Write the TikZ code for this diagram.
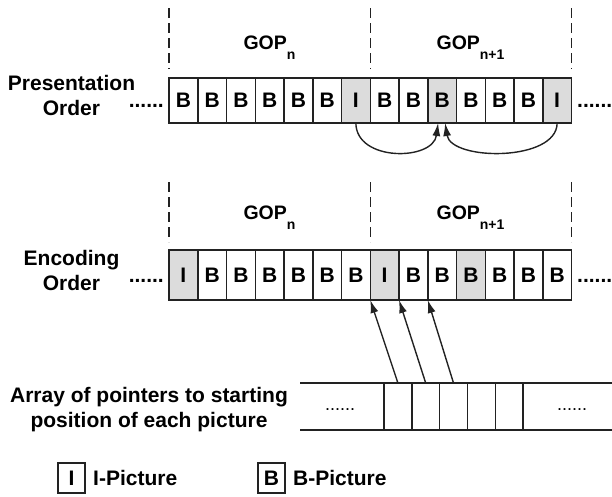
\documentclass[tikz,border=0pt]{standalone}
\usepackage{fontspec}
\setmainfont{Liberation Sans}
\usetikzlibrary{arrows.meta}

\definecolor{framecol}{HTML}{222222}
\definecolor{shadecol}{HTML}{DCDCDC}

\tikzset{
  cell/.style={draw=framecol, line width=1.5pt, minimum width=28.75pt,
    minimum height=#1, inner sep=0pt, outer sep=0pt,
    font=\fontsize{21}{21}\selectfont\bfseries},
  cell/.default=45pt,
  rowlabel/.style={align=center, inner sep=0pt,
    font=\fontsize{21}{25}\selectfont\bfseries},
  gop/.style={inner sep=0pt, font=\fontsize{19.5}{19.5}\selectfont\bfseries},
  dots/.style={inner sep=0pt, font=\fontsize{21}{21}\selectfont\bfseries},
  smalldots/.style={inner sep=0pt, font=\fontsize{18}{18}\selectfont},
  gopline/.style={draw=framecol, line width=1.5pt, dash pattern=on 10pt off 5pt},
  ptr/.style={draw=framecol, line width=1.4pt, -{Latex[length=13pt,width=8pt]}},
  arrbox/.style={draw=framecol, line width=1.4pt, minimum width=27.8pt,
    minimum height=47pt, inner sep=0pt, outer sep=0pt},
  legbox/.style={draw=framecol, line width=1.4pt, minimum width=27pt,
    minimum height=30pt, inner sep=0pt,
    font=\fontsize{21}{21}\selectfont\bfseries},
  legtext/.style={inner sep=0pt, anchor=west,
    font=\fontsize{21}{21}\selectfont\bfseries}
}
\newcommand{\gopsub}[1]{GOP\raisebox{-10pt}{\fontsize{14}{14}\selectfont #1}}

\begin{document}
\begin{tikzpicture}[x=1pt, y=-1pt]
  \useasboundingbox (0,0) rectangle (612,496);

  % ---------- presentation order ----------
  \foreach \x in {169,370.25,571.5}
    \draw[gopline] (\x,8) -- (\x,69);
  \node[gop] (gp1) at (269.5,48) {\gopsub{n}};
  \node[gop] (gp2) at (470.5,48) {\gopsub{n+1}};
  \node[rowlabel] (plabel) at (71.5,95.5) {Presentation\\Order};

  \foreach \lab/\f [count=\i] in {B/white,B/white,B/white,B/white,B/white,B/white,I/shadecol,
                                  B/white,B/white,B/shadecol,B/white,B/white,B/white,I/shadecol}
    \node[cell, fill=\f] (p\i) at ({169+(\i-0.5)*28.75},100.5) {\lab};

  \node[dots, anchor=base east] (pdl) at (164,107) {......};
  \node[dots, anchor=base west] (pdr) at (577,107) {......};

  \draw[ptr] (p7.south) .. controls (356,162) and (433,161) .. ([xshift=-4pt]p10.south);
  \draw[ptr] (p14.south) .. controls (557,162) and (451,161) .. ([xshift=3pt]p10.south);

  % ---------- encoding order ----------
  \foreach \x in {169,370.25,571.5}
    \draw[gopline] (\x,182) -- (\x,242);
  \node[gop] (ge1) at (269.5,218) {\gopsub{n}};
  \node[gop] (ge2) at (470.5,218) {\gopsub{n+1}};
  \node[rowlabel] (elabel) at (71.5,270) {Encoding\\Order};

  \foreach \lab/\f [count=\i] in {I/shadecol,B/white,B/white,B/white,B/white,B/white,B/white,
                                  I/shadecol,B/white,B/white,B/shadecol,B/white,B/white,B/white}
    \node[cell=50pt, fill=\f] (e\i) at ({169+(\i-0.5)*28.75},275) {\lab};

  \node[dots, anchor=base east] (edl) at (164,282) {......};
  \node[dots, anchor=base west] (edr) at (577,282) {......};

  % ---------- array of pointers ----------
  \foreach \i in {1,...,5}
    \node[arrbox] (a\i) at ({384+(\i-0.5)*27.8},406.5) {};
  \coordinate (atl) at (300,383);
  \coordinate (atr) at (612,383);
  \coordinate (abl) at (300,430);
  \coordinate (abr) at (612,430);
  \draw[draw=framecol, line width=1.4pt] (atl) -- (atr) (abl) -- (abr);
  \node[smalldots, anchor=base] (adl) at (340,410) {......};
  \node[smalldots, anchor=base] (adr) at (572,410) {......};
  \node[rowlabel] (alabel) at (149,410) {Array of pointers to starting\\position of each picture};

  \draw[ptr] (a1.north) -- (e7.south east);
  \draw[ptr] (a2.north) -- (e8.south east);
  \draw[ptr] (a3.north) -- (e9.south east);

  % ---------- legend ----------
  \node[legbox] (li) at (71.5,478) {I};
  \node[legtext] (lit) at (93,478) {I-Picture};
  \node[legbox] (lb) at (271.5,478) {B};
  \node[legtext] (lbt) at (293,478) {B-Picture};
\end{tikzpicture}
\end{document}
